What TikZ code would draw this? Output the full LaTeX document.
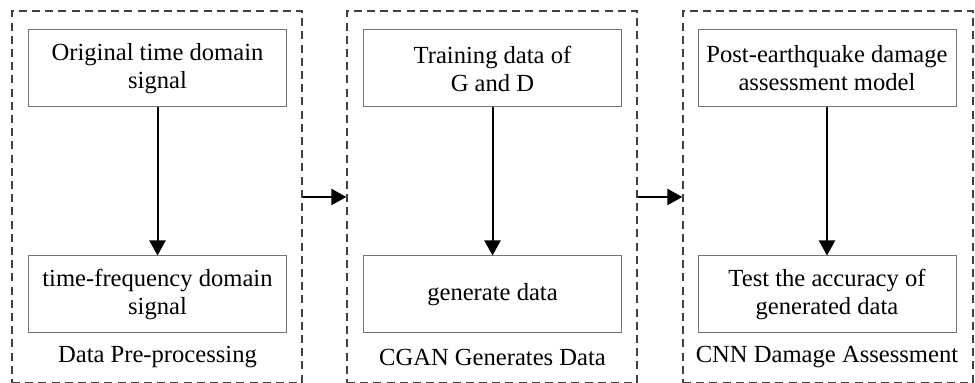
\documentclass[tikz,border=0pt]{standalone}
\usepackage{fontspec}
\setmainfont{Liberation Serif}
\usetikzlibrary{arrows.meta,positioning}
\tikzset{
    stagebox/.style={
        rectangle,
        draw=black!75,
        dashed,
        dash pattern=on 4pt off 2.6pt,
        line width=0.6pt,
        minimum width=145pt,
        minimum height=186pt
    },
    stepbox/.style={
        rectangle,
        draw=black!55,
        line width=0.5pt,
        minimum width=129pt,
        minimum height=38.5pt,
        align=center,
        font=\fontsize{12.3}{14}\selectfont
    },
    stagelabel/.style={
        font=\fontsize{12.3}{14}\selectfont
    },
    flow/.style={
        -{Triangle[width=8pt,length=7.5pt]},
        line width=1pt,
        black
    }
}
\begin{document}
\begin{tikzpicture}[x=0.5pt,y=-0.5pt]
    \useasboundingbox (0,0) rectangle (975,383);

    % Data pre-processing
    \node[stagebox] (prep) at (157,197) {};
    \node[stepbox] (orig) at (157.5,68.5) {Original time domain\\signal};
    \node[stepbox] (tfsig) at (157.5,294.5) {time-frequency domain\\signal};
    \node[stagelabel] (preplabel) at (157.5,357) {Data Pre-processing};
    \draw[flow] (orig) -- (tfsig);

    % CGAN
    \node[stagebox] (cgan) at (492,197) {};
    \node[stepbox] (train) at (492.5,68.5) {Training data of\\G and D};
    \node[stepbox] (gen) at (492.5,294.5) {generate data};
    \node[stagelabel] (cganlabel) at (492.5,357) {CGAN Generates Data};
    \draw[flow] (train) -- (gen);

    % CNN assessment
    \node[stagebox] (cnn) at (828,197) {};
    \node[stepbox] (model) at (827,68.5) {Post-earthquake damage\\assessment model};
    \node[stepbox] (test) at (827,294.5) {Test the accuracy of\\generated data};
    \node[stagelabel] (cnnlabel) at (827,357) {CNN Damage Assessment};
    \draw[flow] (model) -- (test);

    % between stages
    \draw[flow] (prep) -- (cgan);
    \draw[flow] (cgan) -- (cnn);
\end{tikzpicture}
\end{document}
